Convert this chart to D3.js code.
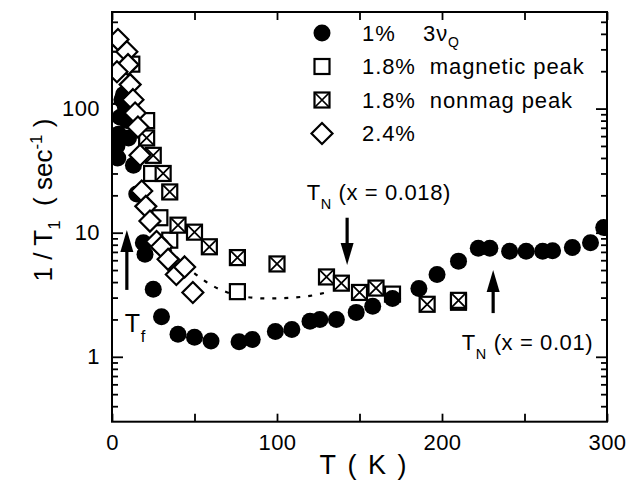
<!DOCTYPE html>
<html>
<head>
<meta charset="utf-8">
<script src="https://cdn.jsdelivr.net/npm/d3@7"></script>
<style>
  html, body { margin: 0; padding: 0; background: #fff; }
  svg { display: block; font-family: "Liberation Sans", Arial, Helvetica, sans-serif; }
</style>
</head>
<body>
<svg id="chart" width="639" height="483"></svg>
<script>
// 1/T1 relaxation rate versus temperature, four sample series
const series1pct = [ // 1%  3νQ  (filled circles)
  [2, 42], [3, 50], [4, 62], [5, 85], [6, 118], [7, 130], [8, 105], [9, 80], [3.5, 40],
  [10, 58], [13, 35], [15, 20.5], [19, 8.3], [20, 6.7], [25, 3.5], [30, 2.1], [40, 1.52],
  [50, 1.44], [60, 1.34], [77, 1.32], [85, 1.38], [99, 1.6], [109, 1.66], [120, 1.93],
  [126, 2.0], [136, 2.0], [148, 2.28], [158, 2.55], [170, 2.95], [186, 3.55], [197, 4.6],
  [210, 5.9], [222, 7.5], [229, 7.5], [241, 7.1], [251, 7.1], [261, 7.1], [267, 7.15],
  [279, 7.6], [290, 8.3], [298, 11]
];
const series18mag = [ // 1.8% magnetic peak (open squares)
  [2, 330], [3, 95], [12, 228], [21, 80], [24, 30], [29, 13.2], [35, 8.7], [76, 3.35], [170, 3.2]
];
const series18nonmag = [ // 1.8% nonmag peak (crossed squares)
  [21, 58], [25, 42], [31, 30], [35, 21.3], [40, 11.5], [50, 10.1], [59, 7.7], [76, 6.3],
  [100, 5.6], [130, 4.4], [139, 3.92], [150, 3.3], [160, 3.58], [191, 2.65], [210, 2.75], [210, 2.85]
];
const series24 = [ // 2.4% (open diamonds)
  [3.6, 360], [9, 287], [9.7, 226], [3, 198], [11, 156], [12.7, 118], [14, 92], [15.7, 71],
  [17, 42], [18, 21.7], [20.5, 16.3], [23, 12.4], [27, 8.5], [30, 7.7], [34, 6.1], [39, 4.6],
  [44, 5.3], [49, 3.3]
];
const guideCurve = [ // dotted guide through the 1.8% magnetic peak data
  [30, 9], [40, 6.2], [50, 4.7], [60, 3.8], [70, 3.3], [80, 3.05], [95, 2.95],
  [110, 3.0], [120, 3.1], [130, 3.3]
];
const xTicks = [0, 50, 100, 150, 200, 250, 300];
const xTickLabels = ["0", "", "100", "", "200", "", "300"];
const yMajorTicks = [1, 10, 100];
const yMinorTicks = [0.4, 0.5, 0.6, 0.7, 0.8, 0.9, 2, 3, 4, 5, 6, 7, 8, 9,
                     20, 30, 40, 50, 60, 70, 80, 90, 200, 300, 400, 500];
const legendItems = [
  { key: "circle", label: "1%", extra: "3ν", sub: "Q" },
  { key: "square", label: "1.8%\u00a0\u00a0magnetic peak" },
  { key: "crossed", label: "1.8%\u00a0\u00a0nonmag peak" },
  { key: "diamond", label: "2.4%" }
];
// annotation arrows: [T, tail value, tip value]
const arrows = [[9, 3.46, 10.5], [142.5, 13.2, 5.5], [231, 2.25, 5.0]];
// annotation labels: [T, value at baseline, main, subscript, rest, font size]
const notes = [
  [118, 18.4, "T", "N", " (x = 0.018)", 22],
  [212, 1.13, "T", "N", " (x = 0.01)", 22],
  [7.8, 1.585, "T", "f", null, 25]
];

const svg = d3.select("#chart");
const L = 112, R = 607, T = 12, B = 421.7;
const x = d3.scaleLinear().domain([0, 300]).range([L, R]);
const y = d3.scaleLog().domain([0.3, 600]).range([B, T]);

svg.append("defs").append("clipPath").attr("id", "plotclip")
  .append("rect").attr("x", L).attr("y", T).attr("width", R - L).attr("height", B - T);

// axes with inward ticks
function styleAxis(g) {
  g.select(".domain").remove();
  g.selectAll(".tick line").attr("stroke", "#000").attr("stroke-width", 1.8);
  g.selectAll(".tick text").attr("fill", "#000").style("font-size", "22px")
    .style("letter-spacing", "0.4px")
    .style("font-family", "'Liberation Sans', Arial, sans-serif");
}
svg.append("g").attr("transform", `translate(0,${B})`)
  .call(d3.axisBottom(x).tickValues(xTicks).tickSize(-8).tickSizeOuter(0).tickPadding(13)
    .tickFormat((d, i) => xTickLabels[i]))
  .call(styleAxis);
svg.append("g").attr("transform", `translate(0,${T})`)
  .call(d3.axisTop(x).tickValues(xTicks).tickSize(-8).tickSizeOuter(0).tickFormat(""))
  .call(styleAxis);
svg.append("g").attr("transform", `translate(${L},0)`)
  .call(d3.axisLeft(y).tickValues(yMajorTicks).tickSize(-11).tickSizeOuter(0).tickPadding(12)
    .tickFormat(d3.format("d")))
  .call(styleAxis);
svg.append("g").attr("transform", `translate(${L},0)`)
  .call(d3.axisLeft(y).tickValues(yMinorTicks).tickSize(-6).tickSizeOuter(0).tickFormat(""))
  .call(styleAxis);
svg.append("g").attr("transform", `translate(${R},0)`)
  .call(d3.axisRight(y).tickValues(yMajorTicks).tickSize(-11).tickSizeOuter(0).tickFormat(""))
  .call(styleAxis);
svg.append("g").attr("transform", `translate(${R},0)`)
  .call(d3.axisRight(y).tickValues(yMinorTicks).tickSize(-6).tickSizeOuter(0).tickFormat(""))
  .call(styleAxis);

// marker shapes
const SQ = 15, DI = 10.5, CR = 8.5;
function drawSquare(g, cx, cy, s, crossed, sw) {
  g.append("rect").attr("x", cx - s / 2).attr("y", cy - s / 2).attr("width", s).attr("height", s)
    .attr("fill", "#fff").attr("stroke", "#000").attr("stroke-width", sw);
  if (crossed) {
    const h = s / 2;
    g.append("path").attr("d", `M${cx - h},${cy - h}L${cx + h},${cy + h}M${cx + h},${cy - h}L${cx - h},${cy + h}`)
      .attr("stroke", "#000").attr("stroke-width", sw * 0.8).attr("fill", "none");
  }
}
function drawDiamond(g, cx, cy, r, sw) {
  g.append("path").attr("d", `M${cx},${cy - r}L${cx + r},${cy}L${cx},${cy + r}L${cx - r},${cy}Z`)
    .attr("fill", "#fff").attr("stroke", "#000").attr("stroke-width", sw);
}

const plot = svg.append("g").attr("clip-path", "url(#plotclip)");

// dotted guide curve
plot.append("path").datum(guideCurve)
  .attr("d", d3.line().x(d => x(d[0])).y(d => y(d[1])).curve(d3.curveMonotoneX))
  .attr("fill", "none").attr("stroke", "#000").attr("stroke-width", 2.2)
  .attr("stroke-dasharray", "4,8");

const gMag = plot.append("g");
series18mag.forEach(d => drawSquare(gMag, x(d[0]), y(d[1]), SQ, false, 2.2));
const gNon = plot.append("g");
series18nonmag.forEach(d => drawSquare(gNon, x(d[0]), y(d[1]), SQ, true, 2.2));
plot.append("g").selectAll("circle").data(series1pct).join("circle")
  .attr("cx", d => x(d[0])).attr("cy", d => y(d[1])).attr("r", CR).attr("fill", "#000");
const gDia = plot.append("g");
series24.forEach(d => drawDiamond(gDia, x(d[0]), y(d[1]), DI, 2.2));

// frame
svg.append("rect").attr("x", L).attr("y", T).attr("width", R - L).attr("height", B - T)
  .attr("fill", "none").attr("stroke", "#000").attr("stroke-width", 2);

// arrows
const HW = 6.5, HL = 22;
arrows.forEach(([t, v0, v1]) => {
  const ax = x(t), y0 = y(v0), y1 = y(v1);
  const dir = y1 < y0 ? 1 : -1; // 1 = pointing up
  svg.append("line").attr("x1", ax).attr("x2", ax).attr("y1", y0).attr("y2", y1 + dir * (HL - 2))
    .attr("stroke", "#000").attr("stroke-width", 3.2);
  svg.append("path").attr("d", `M${ax},${y1}L${ax - HW},${y1 + dir * HL}L${ax + HW},${y1 + dir * HL}Z`)
    .attr("fill", "#000");
});

// annotations
notes.forEach(([t, v, main, sub, rest, size]) => {
  const tx = svg.append("text").attr("x", x(t)).attr("y", y(v))
    .style("font-size", size + "px").style("letter-spacing", "0.6px").attr("fill", "#000");
  tx.append("tspan").text(main);
  tx.append("tspan").attr("dy", size * 0.4).style("font-size", (size * 0.66) + "px").text(sub);
  if (rest) tx.append("tspan").attr("dy", -size * 0.4).text(rest.replace(/ /g, "\u00a0"));
});

// legend
const lx = 322, ltx = 362, ly0 = 33, ldy = 33.5;
legendItems.forEach((it, i) => {
  const cy = ly0 + i * ldy;
  if (it.key === "circle") svg.append("circle").attr("cx", lx).attr("cy", cy).attr("r", CR).attr("fill", "#000");
  if (it.key === "square") drawSquare(svg, lx, cy, SQ, false, 2.2);
  if (it.key === "crossed") drawSquare(svg, lx, cy, SQ, true, 2.2);
  if (it.key === "diamond") drawDiamond(svg, lx, cy, DI, 2.2);
  const t = svg.append("text").attr("x", ltx).attr("y", cy + 7.5)
    .style("font-size", "22px").style("letter-spacing", "0.9px").attr("fill", "#000");
  t.append("tspan").text(it.label);
  if (it.extra) {
    t.append("tspan").attr("x", 423).text(it.extra);
    t.append("tspan").attr("dy", 6).style("font-size", "14px").text(it.sub);
  }
});

// axis titles
svg.append("text").attr("x", 364).attr("y", 474).attr("text-anchor", "middle")
  .style("font-size", "27px").style("letter-spacing", "2px").attr("fill", "#000")
  .text("T\u00a0(\u00a0K\u00a0)");
const yt = svg.append("text").attr("transform", "translate(52,200) rotate(-90)")
  .attr("text-anchor", "middle").style("font-size", "26px").attr("fill", "#000");
yt.append("tspan").text("1 / T");
yt.append("tspan").attr("dy", 8).style("font-size", "17px").text("1");
yt.append("tspan").attr("dy", -8).text("\u00a0\u00a0( sec");
yt.append("tspan").attr("dy", -10).style("font-size", "17px").text("-1");
yt.append("tspan").attr("dy", 10).text(" )");
</script>
</body>
</html>
